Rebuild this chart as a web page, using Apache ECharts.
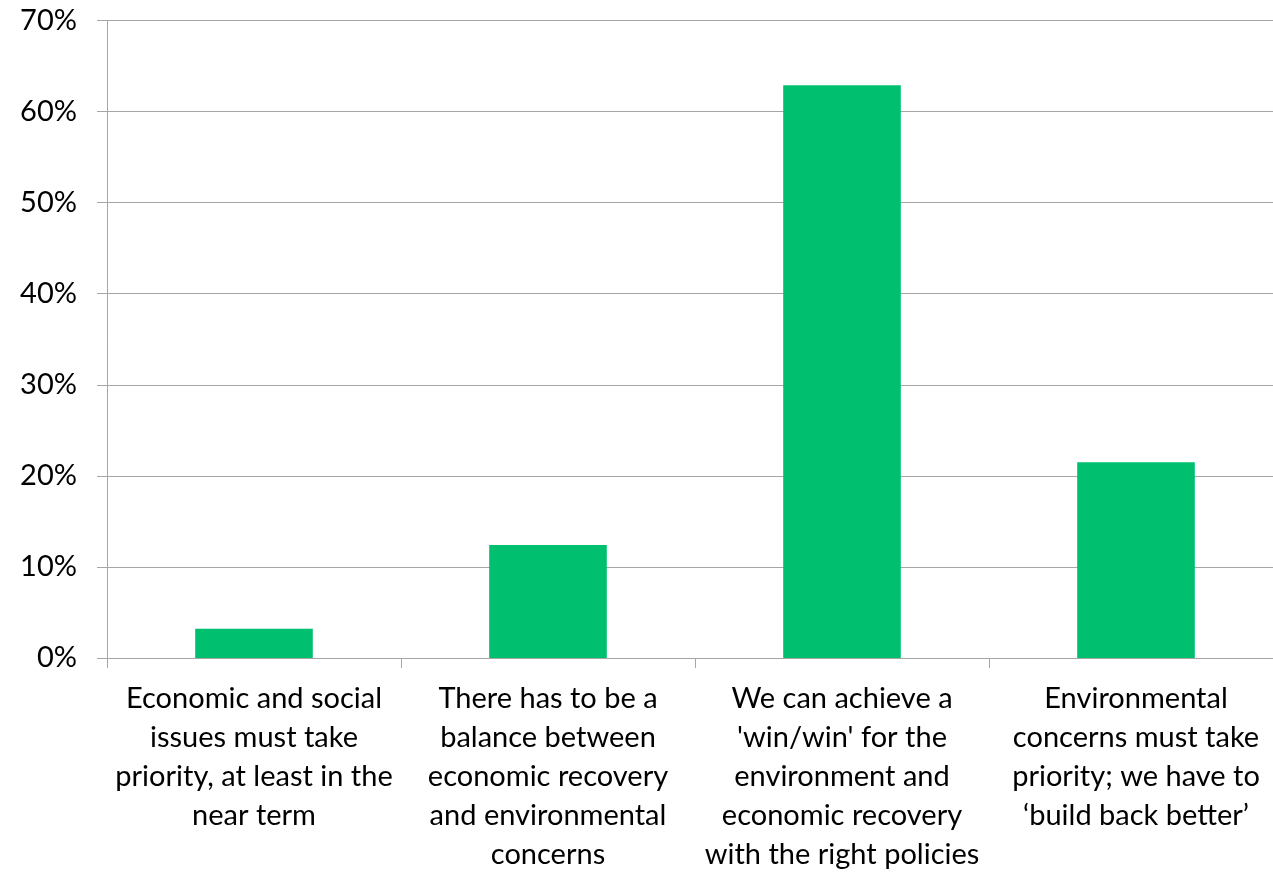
<!DOCTYPE html>
<html>
<head>
<meta charset="utf-8">
<script src="https://cdn.jsdelivr.net/npm/echarts@6/dist/echarts.min.js"></script>
<style>
html,body{margin:0;padding:0;background:#fff;overflow:hidden;}
#chart{width:1290px;height:874px;}
</style>
</head>
<body>
<div id="chart"></div>
<script>
const categories = [
  "Economic and social\nissues must take\npriority, at least in the\nnear term",
  "There has to be a\nbalance between\neconomic recovery\nand environmental\nconcerns",
  "We can achieve a\n'win/win' for the\nenvironment and\neconomic recovery\nwith the right policies",
  "Environmental\nconcerns must take\npriority; we have to\n\u2018build back better\u2019"
];
const values = [3.2, 12.4, 62.9, 21.5];
const yTicks = { min: 0, max: 70, interval: 10 };

const chart = echarts.init(document.getElementById('chart'), null, { renderer: 'canvas' });
const font = 'Lato, Carlito, "Open Sans", sans-serif';
chart.setOption({
  animation: false,
  grid: { left: 107, width: 1176, top: 20.5, height: 640, containLabel: false },
  xAxis: {
    type: 'category',
    data: categories,
    axisLine: { lineStyle: { color: '#a6a6a6', width: 1 } },
    axisTick: { show: true, length: 10, lineStyle: { color: '#a6a6a6' }, alignWithLabel: false },
    axisLabel: {
      interval: 0, color: '#000', fontFamily: font, fontSize: 29,
      lineHeight: 39, margin: 21, align: 'center', verticalAlign: 'top'
    }
  },
  yAxis: {
    type: 'value',
    min: yTicks.min, max: yTicks.max, interval: yTicks.interval,
    axisLine: { show: true, lineStyle: { color: '#a6a6a6', width: 1 } },
    axisTick: { show: true, length: 10, lineStyle: { color: '#a6a6a6' } },
    splitLine: { show: true, lineStyle: { color: '#a6a6a6', width: 1 } },
    axisLabel: { color: '#000', fontFamily: font, fontSize: 29, margin: 30, formatter: '{value}%' }
  },
  series: [{
    type: 'bar',
    data: values,
    barWidth: '40%',
    itemStyle: { color: '#00bf6f' }
  }]
});
</script>
</body>
</html>
